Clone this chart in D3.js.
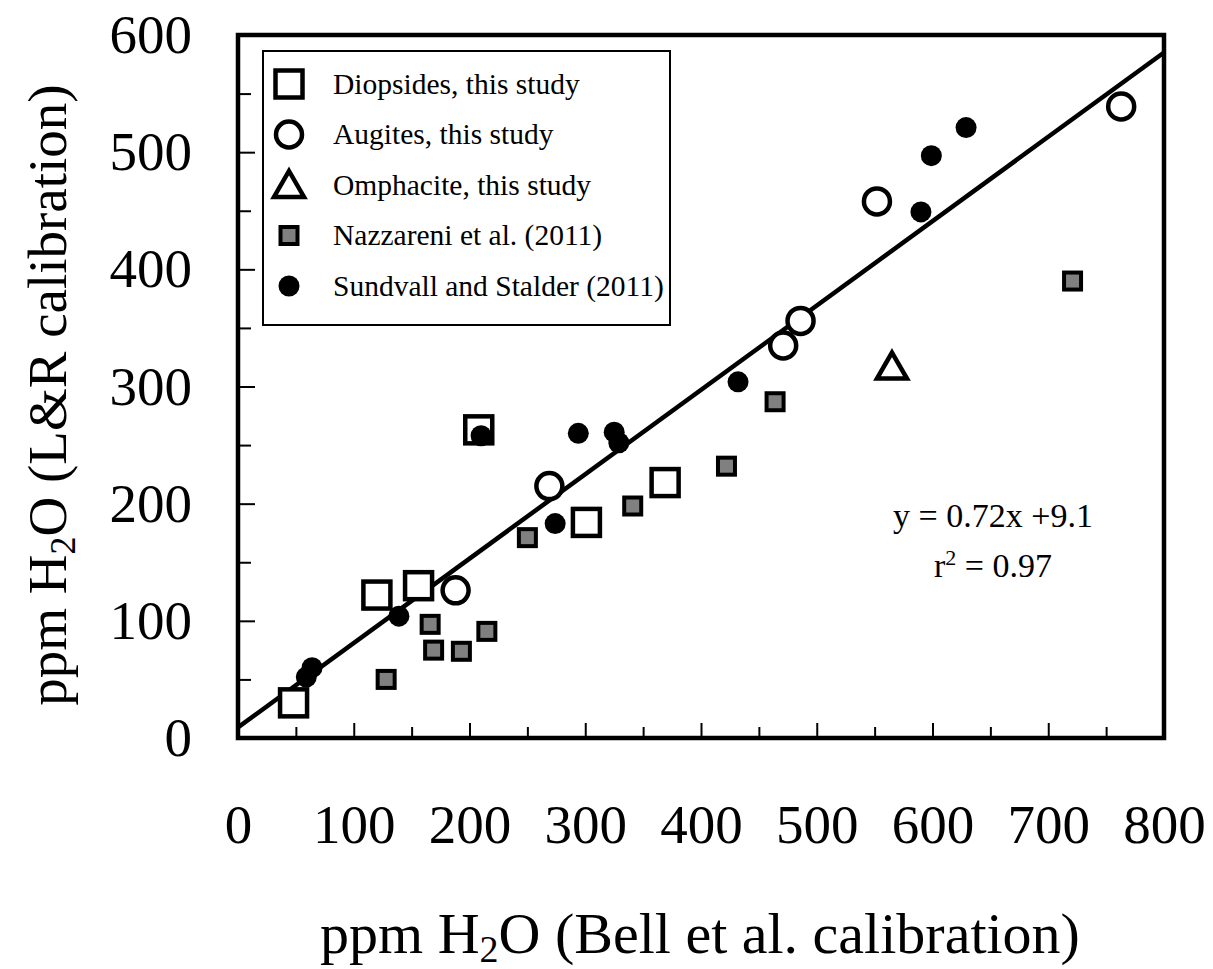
<!DOCTYPE html>
<html>
<head>
<meta charset="utf-8">
<script src="https://cdn.jsdelivr.net/npm/d3@7"></script>
<style>
  body { margin: 0; background: #fff; }
  svg { display: block; }
  svg text { font-family: "Liberation Serif", "Times New Roman", serif; fill: #000; }
  .axis path { display: none; }
  .axis line { stroke: #000; stroke-width: 2; }
  .axis text { font-size: 55px; font-family: "Liberation Serif", "Times New Roman", serif; }
</style>
</head>
<body>
<div id="chart"></div>
<script>
const width = 1213
const height = 969

// [Bell et al., L&R] ppm H2O
const diopsides = [[48, 30], [120, 122], [156, 130], [208, 263], [301, 184], [369, 218]]
const augites = [[188, 126], [269, 215], [471, 335], [486, 356], [552, 458], [763, 539]]
const omphacite = [[565, 317]]
const nazzareni = [[128, 50], [166, 97], [169, 75], [193, 74], [215, 91], [250, 171],
    [341, 198], [422, 232], [464, 287], [721, 390]]
const sundvall = [[59, 52], [64, 60], [139, 104], [210, 258], [274, 183], [294, 260],
    [325, 261], [329, 252], [432, 304], [590, 449], [599, 497], [629, 521]]

const fit = { slope: 0.72, intercept: 9.1 }
const xMajor = [0, 100, 200, 300, 400, 500, 600, 700, 800]
const xMinor = [50, 150, 250, 350, 450, 550, 650, 750]
const yMajor = [0, 100, 200, 300, 400, 500, 600]
const yMinor = [50, 150, 250, 350, 450, 550]

const legendItems = [
    { label: "Diopsides, this study", kind: "openSquare" },
    { label: "Augites, this study", kind: "openCircle" },
    { label: "Omphacite, this study", kind: "triangle" },
    { label: "Nazzareni et al. (2011)", kind: "graySquare" },
    { label: "Sundvall and Stalder (2011)", kind: "dot" }
]

const margin = { left: 238, right: 49, top: 35, bottom: 231 }

const x = d3.scaleLinear().domain([0, 800]).range([margin.left, width - margin.right])
const y = d3.scaleLinear().domain([0, 600]).range([height - margin.bottom, margin.top])

const svg = d3.select("#chart").append("svg")
    .attr("width", width)
    .attr("height", height)

// axes: inward ticks, big labels far from the frame
svg.append("g").attr("class", "axis")
    .attr("transform", `translate(0,${y(0)})`)
    .call(d3.axisBottom(x).tickValues(xMajor).tickSize(-15).tickPadding(66))
svg.append("g").attr("class", "axis")
    .attr("transform", `translate(0,${y(0)})`)
    .call(d3.axisBottom(x).tickValues(xMinor).tickSize(-11).tickFormat(""))
svg.append("g").attr("class", "axis")
    .attr("transform", `translate(${x(0)},0)`)
    .call(d3.axisLeft(y).tickValues(yMajor).tickSize(-17).tickPadding(46))
svg.append("g").attr("class", "axis")
    .attr("transform", `translate(${x(0)},0)`)
    .call(d3.axisLeft(y).tickValues(yMinor).tickSize(-13).tickFormat(""))
svg.selectAll(".axis").attr("font-family", null).attr("font-size", null)

svg.append("rect")
    .attr("x", x(0)).attr("y", y(600))
    .attr("width", x(800) - x(0)).attr("height", y(0) - y(600))
    .attr("fill", "none").attr("stroke", "#000").attr("stroke-width", 4.5)

// regression line
svg.append("line")
    .attr("x1", x(0)).attr("y1", y(fit.intercept))
    .attr("x2", x(800)).attr("y2", y(fit.slope * 800 + fit.intercept))
    .attr("stroke", "#000").attr("stroke-width", 4.5)

function marker(sel, kind) {
    if (kind === "openSquare") {
        sel.append("rect").attr("x", -13.5).attr("y", -13.5).attr("width", 27).attr("height", 27)
            .attr("fill", "#fff").attr("stroke", "#000").attr("stroke-width", 4.5)
    } else if (kind === "openCircle") {
        sel.append("circle").attr("r", 13)
            .attr("fill", "#fff").attr("stroke", "#000").attr("stroke-width", 4.5)
    } else if (kind === "triangle") {
        sel.append("path").attr("d", "M0,-14L15,12L-15,12Z")
            .attr("fill", "#fff").attr("stroke", "#000").attr("stroke-width", 4.5)
            .attr("stroke-linejoin", "miter")
    } else if (kind === "graySquare") {
        sel.append("rect").attr("x", -8.5).attr("y", -8.5).attr("width", 17).attr("height", 17)
            .attr("fill", "#808080").attr("stroke", "#000").attr("stroke-width", 4)
    } else {
        sel.append("circle").attr("r", 10.5).attr("fill", "#000")
    }
}

const groups = [
    [diopsides, "openSquare"], [augites, "openCircle"], [omphacite, "triangle"],
    [nazzareni, "graySquare"], [sundvall, "dot"]
]
for (const [data, kind] of groups) {
    svg.append("g").selectAll("g")
        .data(data)
        .enter().append("g")
        .attr("transform", d => `translate(${x(d[0])},${y(d[1])})`)
        .each(function() { marker(d3.select(this), kind) })
}

// legend
const legend = svg.append("g").attr("transform", "translate(263,51)")
legend.append("rect")
    .attr("width", 407).attr("height", 274)
    .attr("fill", "#fff").attr("stroke", "#000").attr("stroke-width", 2)
const rows = legend.selectAll(".row")
    .data(legendItems)
    .enter().append("g")
    .attr("class", "row")
    .attr("transform", (d, i) => `translate(26,${33 + i * 50.5})`)
rows.each(function(d) { marker(d3.select(this), d.kind) })
rows.append("text")
    .attr("x", 44).attr("dy", "0.33em")
    .attr("font-size", 29.5)
    .text(d => d.label)

// fit equation
svg.append("text").attr("text-anchor", "middle").attr("font-size", 34)
    .attr("x", 993).attr("y", 527).text("y = 0.72x +9.1")
const r2 = svg.append("text").attr("text-anchor", "middle").attr("font-size", 34)
    .attr("x", 993).attr("y", 577)
r2.append("tspan").text("r")
r2.append("tspan").attr("font-size", 22).attr("dy", -12).text("2")
r2.append("tspan").attr("dy", 12).text(" = 0.97")

// axis titles
const xt = svg.append("text").attr("text-anchor", "middle").attr("font-size", 58)
    .attr("x", 700).attr("y", 953)
xt.append("tspan").text("ppm H")
xt.append("tspan").attr("font-size", 38).attr("dy", 9).text("2")
xt.append("tspan").attr("dy", -9).text("O (Bell et al. calibration)")

const yt = svg.append("text").attr("text-anchor", "middle").attr("font-size", 55)
    .attr("transform", "translate(66,395) rotate(-90)")
yt.append("tspan").text("ppm H")
yt.append("tspan").attr("font-size", 36).attr("dy", 9).text("2")
yt.append("tspan").attr("dy", -9).text("O (L&R calibration)")
</script>
</body>
</html>
